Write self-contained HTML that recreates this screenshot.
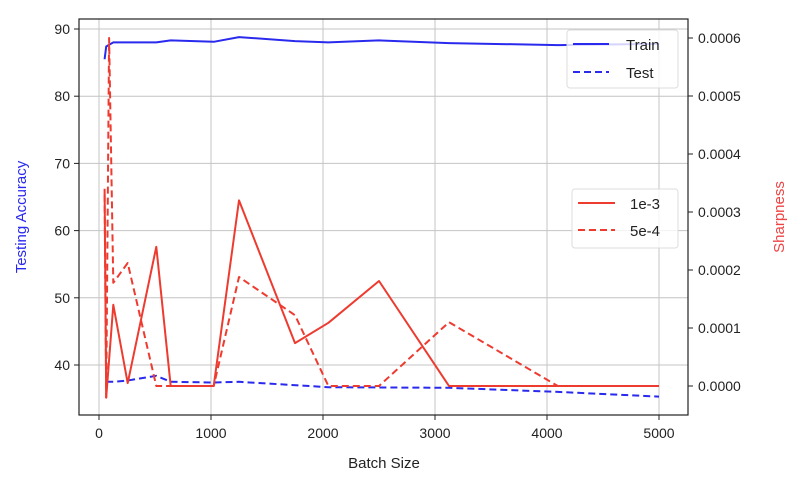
<!DOCTYPE html>
<html><head><meta charset="utf-8"><style>
body{margin:0;background:#fff;}
svg{display:block;font-family:"Liberation Sans","DejaVu Sans",sans-serif;}
</style></head><body>
<svg id="chart" width="812" height="484" viewBox="0 0 812 484">
<g id="grid"></g>
<g id="series"></g>
<rect x="79" y="19" width="609" height="396" fill="none" stroke="#222" stroke-width="1.2"/>
<g id="ticks"></g>
<text x="384" y="468" font-size="15" text-anchor="middle" fill="#222">Batch Size</text>
<text transform="translate(26,217) rotate(-90)" font-size="15" text-anchor="middle" fill="#2a2aee">Testing Accuracy</text>
<text transform="translate(784,217) rotate(-90)" font-size="15" text-anchor="middle" fill="#ee4444">Sharpness</text>
<g>
<rect x="567" y="30" width="111" height="58" rx="3" fill="#fff" fill-opacity="0.8" stroke="#ddd"/>
<line x1="573" y1="44" x2="609" y2="44" stroke="#2a2aee" stroke-width="2"/>
<text x="626" y="50" font-size="15" fill="#222">Train</text>
<line x1="573" y1="72" x2="609" y2="72" stroke="#2a2aee" stroke-width="2" stroke-dasharray="7,4"/>
<text x="626" y="78" font-size="15" fill="#222">Test</text>
</g>
<g>
<rect x="572" y="189" width="106" height="59" rx="3" fill="#fff" fill-opacity="0.8" stroke="#ddd"/>
<line x1="578" y1="203" x2="615" y2="203" stroke="#ee3b30" stroke-width="2"/>
<text x="630" y="209" font-size="15" fill="#222">1e-3</text>
<line x1="578" y1="230" x2="615" y2="230" stroke="#ee3b30" stroke-width="2" stroke-dasharray="7,4"/>
<text x="630" y="236" font-size="15" fill="#222">5e-4</text>
</g>
</svg>
<script>
const batchSizes=[50,64,128,256,512,640,1024,1250,1750,2048,2500,3125,4096,5000];
const trainAcc=[85.5,87.4,88.0,88.0,88.0,88.3,88.1,88.8,88.2,88.0,88.3,87.9,87.6,87.8];
const testX=[64,128,256,512,640,1024,1250,2048,3125,4096,5000];
const testAcc=[37.5,37.5,37.7,38.4,37.5,37.4,37.5,36.7,36.6,36.0,35.3];
const sharpX1=[50,64,128,256,512,640,1024,1250,1750,2048,2500,3125,4096,5000];
const sharp1e3=[0.00034,-0.00002,0.00014,0.000005,0.00024,0,0,0.00032,0.000074,0.000109,0.000181,0,0,0];
const sharpX2=[50,64,90,128,256,512,640,1024,1250,1750,2048,2500,3125,4096,5000];
const sharp5e4=[0.00033,-0.00002,0.0006,0.000178,0.000212,0,0,0,0.000188,0.000122,0,0,0.00011,0,0];
const xTicks=[0,1000,2000,3000,4000,5000];
const yTicks=[40,50,60,70,80,90];
const y2Ticks=[0,0.0001,0.0002,0.0003,0.0004,0.0005,0.0006];
const xS=v=>99+v*0.112;
const yS=v=>29+(90-v)*6.72;
const y2S=v=>386-v/0.0001*58;
const NS="http://www.w3.org/2000/svg";
function mk(tag,attrs,parent){const e=document.createElementNS(NS,tag);for(const k in attrs)e.setAttribute(k,attrs[k]);parent.appendChild(e);return e;}
const grid=document.getElementById('grid'),ticks=document.getElementById('ticks'),ser=document.getElementById('series');
xTicks.forEach(t=>{const x=xS(t);
 const g=mk('line',{x1:x,x2:x,y1:19,y2:415,stroke:'#c4c4c4','stroke-width':1},grid);
 
 
 mk('line',{x1:x,x2:x,y1:415,y2:420,stroke:'#222'},ticks);
 const l=mk('text',{x:x,y:438,'font-size':14,'text-anchor':'middle',fill:'#222'},ticks);l.textContent=t;
 
 });
yTicks.forEach(t=>{const y=yS(t);
 const g=mk('line',{x1:79,x2:688,y1:y,y2:y,stroke:'#c4c4c4','stroke-width':1},grid);
 
 
 mk('line',{x1:74,x2:79,y1:y,y2:y,stroke:'#222'},ticks);
 const l=mk('text',{x:70,y:y+5,'font-size':14,'text-anchor':'end',fill:'#222'},ticks);l.textContent=t;
 
 });
y2Ticks.forEach(t=>{const y=y2S(t);
 mk('line',{x1:688,x2:693,y1:y,y2:y,stroke:'#222'},ticks);
 const l=mk('text',{x:698,y:y+5,'font-size':14,fill:'#222'},ticks);l.textContent=t.toFixed(4);
 
 });
function line(xs,ys,fy,color,dash,name){
 const pts=xs.map((x,i)=>xS(x).toFixed(1)+','+fy(ys[i]).toFixed(1)).join(' ');
 const p=mk('polyline',{points:pts,fill:'none',stroke:color,'stroke-width':2,'stroke-linejoin':'round'},ser);
 if(dash)p.setAttribute('stroke-dasharray','7,4');
 
 }
line(batchSizes,trainAcc,yS,'#2a2aee',false,'train-line');
line(testX,testAcc,yS,'#2a2aee',true,'test-line');
line(sharpX1,sharp1e3,y2S,'#ee3b30',false,'sharpness-1e-3-line');
line(sharpX2,sharp5e4,y2S,'#ee3b30',true,'sharpness-5e-4-line');
</script>
</body></html>
